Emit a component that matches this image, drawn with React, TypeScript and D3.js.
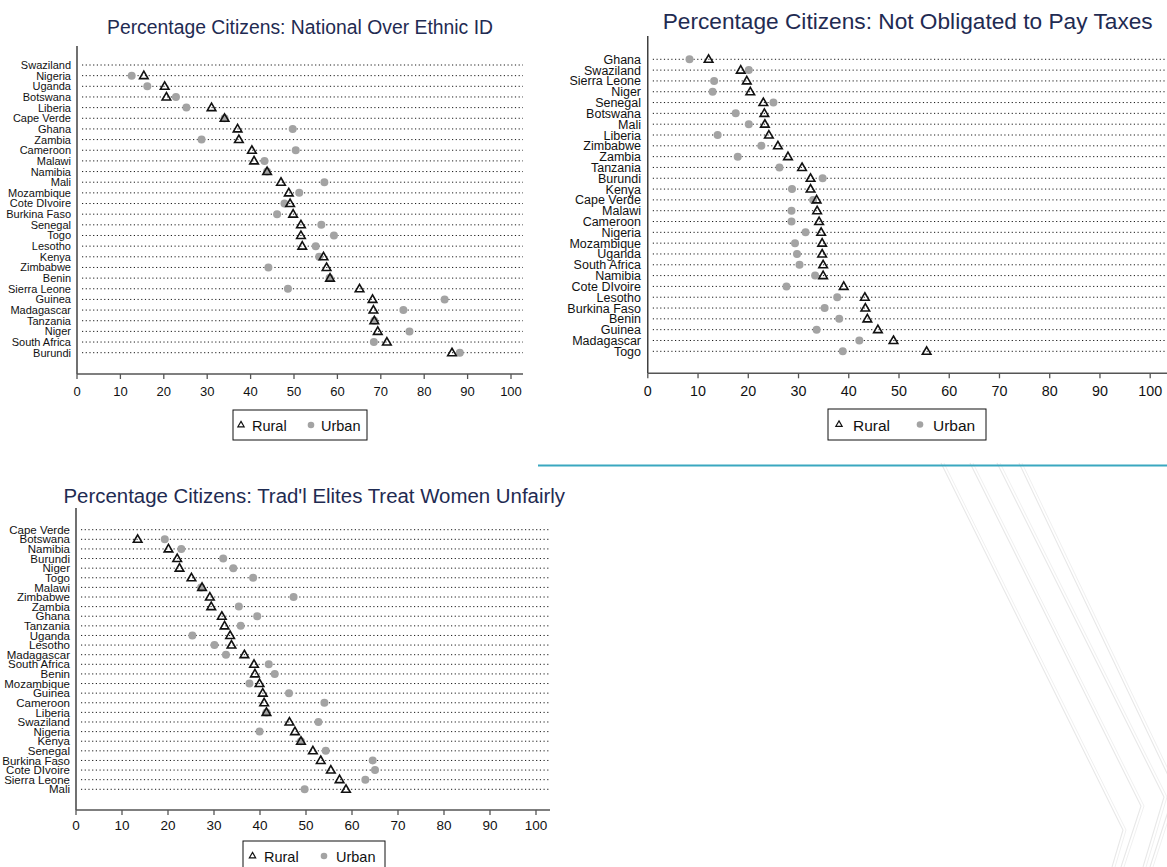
import React from "react";
import * as d3 from "d3";

// ---------- Data ----------
const seriesNames = ["Rural", "Urban"];
const xTicks = [0, 10, 20, 30, 40, 50, 60, 70, 80, 90, 100];

const ethnicTitle = "Percentage Citizens: National Over Ethnic ID";
const ethnicCountries = [
  "Swaziland", "Nigeria", "Uganda", "Botswana", "Liberia", "Cape Verde", "Ghana", "Zambia",
  "Cameroon", "Malawi", "Namibia", "Mali", "Mozambique", "Cote DIvoire", "Burkina Faso",
  "Senegal", "Togo", "Lesotho", "Kenya", "Zimbabwe", "Benin", "Sierra Leone", "Guinea",
  "Madagascar", "Tanzania", "Niger", "South Africa", "Burundi",
];
const ethnicRural: (number | null)[] = [
  null, 15.4, 20.2, 20.6, 31.0, 34.0, 37.0, 37.3, 40.3, 40.8, 43.8, 47.0, 48.8, 49.1, 49.8,
  51.6, 51.6, 51.9, 56.8, 57.5, 58.3, 65.1, 68.1, 68.3, 68.5, 69.3, 71.4, 86.4,
];
const ethnicUrban: (number | null)[] = [
  null, 12.6, 16.2, 22.8, 25.2, 34.0, 49.7, 28.7, 50.4, 43.2, 43.8, 57.0, 51.2, 47.8, 46.1,
  56.3, 59.2, 55.0, 55.8, 44.1, 58.2, 48.6, 84.7, 75.2, 68.5, 76.6, 68.4, 88.2,
];

const taxTitle = "Percentage Citizens: Not Obligated to Pay Taxes";
const taxCountries = [
  "Ghana", "Swaziland", "Sierra Leone", "Niger", "Senegal", "Botswana", "Mali", "Liberia",
  "Zimbabwe", "Zambia", "Tanzania", "Burundi", "Kenya", "Cape Verde", "Malawi", "Cameroon",
  "Nigeria", "Mozambique", "Uganda", "South Africa", "Namibia", "Cote DIvoire", "Lesotho",
  "Burkina Faso", "Benin", "Guinea", "Madagascar", "Togo",
];
const taxRural: (number | null)[] = [
  12.1, 18.5, 19.7, 20.4, 23.0, 23.2, 23.3, 24.1, 25.9, 27.9, 30.7, 32.4, 32.4, 33.6, 33.7,
  34.1, 34.5, 34.7, 34.7, 34.9, 34.9, 39.0, 43.2, 43.3, 43.7, 45.8, 48.9, 55.5,
];
const taxUrban: (number | null)[] = [
  8.3, 20.1, 13.2, 12.9, 25.0, 17.5, 20.1, 13.9, 22.6, 17.9, 26.2, 34.8, 28.7, 32.9, 28.6,
  28.6, 31.4, 29.3, 29.7, 30.2, 33.3, 27.6, 37.7, 35.2, 38.1, 33.6, 42.1, 38.8,
];

const womenTitle = "Percentage Citizens: Trad'l Elites Treat Women Unfairly";
const womenCountries = [
  "Cape Verde", "Botswana", "Namibia", "Burundi", "Niger", "Togo", "Malawi", "Zimbabwe",
  "Zambia", "Ghana", "Tanzania", "Uganda", "Lesotho", "Madagascar", "South Africa", "Benin",
  "Mozambique", "Guinea", "Cameroon", "Liberia", "Swaziland", "Nigeria", "Kenya", "Senegal",
  "Burkina Faso", "Cote DIvoire", "Sierra Leone", "Mali",
];
const womenRural: (number | null)[] = [
  null, 13.4, 20.1, 22.0, 22.5, 25.1, 27.4, 29.1, 29.4, 31.7, 32.3, 33.5, 33.8, 36.6, 38.7,
  38.9, 39.9, 40.6, 40.9, 41.4, 46.4, 47.6, 48.9, 51.5, 53.2, 55.4, 57.3, 58.7,
];
const womenUrban: (number | null)[] = [
  null, 19.3, 22.9, 32.0, 34.2, 38.5, 27.2, 47.3, 35.4, 39.4, 35.8, 25.3, 30.1, 32.6, 41.9,
  43.2, 37.7, 46.3, 54.0, 41.4, 52.7, 39.9, 48.9, 54.3, 64.5, 65.0, 62.9, 49.7,
];

// ---------- Styles ----------
const FONT = "'Liberation Sans', Arial, Helvetica, sans-serif";
const TITLE_COLOR = "#1f2b52";
const URBAN_COLOR = "#a3a3a3";

type Layout = {
  x0: number; x100: number; axisEnd: number; axisTop: number; axisY: number;
  yFirst: number; yLast: number; labelX: number; labelFont: number; tickFont: number;
  tickLabelY: number;
  title: { x1: number; x2: number; baseline: number; size: number };
  legend: { x: number; y: number; w: number; h: number; triX: number; ruralX: number; circX: number; urbanX: number; textY: number; font: number };
};

type PanelProps = {
  title: string;
  categories: string[];
  rural: (number | null)[];
  urban: (number | null)[];
  L: Layout;
};

function Panel({ title, categories, rural, urban, L }: PanelProps) {
  const x = d3.scaleLinear().domain([0, 100]).range([L.x0, L.x100]);
  const y = d3.scalePoint<string>().domain(categories).range([L.yFirst, L.yLast]);
  const tri = d3.symbol().type(d3.symbolTriangle).size(32)();
  const triLegend = d3.symbol().type(d3.symbolTriangle).size(17)();
  return (
    <g fontFamily={FONT}>
      <text
        x={L.title.x1}
        y={L.title.baseline}
        fontSize={L.title.size}
        fill={TITLE_COLOR}
        textLength={L.title.x2 - L.title.x1}
        lengthAdjust="spacingAndGlyphs"
      >
        {title}
      </text>
      {/* y axis */}
      <line x1={L.x0} x2={L.x0} y1={L.axisTop} y2={L.axisY} stroke="#111" strokeWidth={1.2} />
      {/* x axis */}
      <line x1={L.x0} x2={L.axisEnd} y1={L.axisY} y2={L.axisY} stroke="#555" strokeWidth={1.5} />
      {xTicks.map((t) => (
        <g key={t}>
          <line x1={x(t)} x2={x(t)} y1={L.axisY} y2={L.axisY + 5} stroke="#555" strokeWidth={1.3} />
          <text x={x(t)} y={L.tickLabelY} dy="0.35em" textAnchor="middle" fontSize={L.tickFont} fill="#111">
            {t}
          </text>
        </g>
      ))}
      {categories.map((c) => (
        <g key={c}>
          <line
            x1={L.x0 + 5}
            x2={L.axisEnd}
            y1={y(c)}
            y2={y(c)}
            stroke="#1a1a1a"
            strokeWidth={1}
            strokeDasharray="1.2 2.5"
          />
          <text x={L.labelX} y={y(c)} dy="0.36em" textAnchor="end" fontSize={L.labelFont} fill="#111">
            {c}
          </text>
        </g>
      ))}
      {categories.map((c, i) =>
        urban[i] == null ? null : (
          <circle key={"u" + c} cx={x(urban[i] as number)} cy={y(c)} r={4} fill={URBAN_COLOR} />
        )
      )}
      {categories.map((c, i) =>
        rural[i] == null ? null : (
          <path
            key={"r" + c}
            d={tri as string}
            transform={`translate(${x(rural[i] as number)},${(y(c) as number) + 0.5})`}
            fill="none"
            stroke="#111"
            strokeWidth={1.6}
          />
        )
      )}
      {/* legend */}
      <rect x={L.legend.x} y={L.legend.y} width={L.legend.w} height={L.legend.h} fill="#fff" stroke="#111" strokeWidth={1} />
      <path
        d={triLegend as string}
        transform={`translate(${L.legend.triX},${L.legend.textY - 1})`}
        fill="none"
        stroke="#111"
        strokeWidth={1.2}
      />
      <text x={L.legend.ruralX} y={L.legend.textY} dy="0.36em" fontSize={L.legend.font} fill="#111">
        {seriesNames[0]}
      </text>
      <circle cx={L.legend.circX} cy={L.legend.textY - 1} r={3.3} fill={URBAN_COLOR} />
      <text x={L.legend.urbanX} y={L.legend.textY} dy="0.36em" fontSize={L.legend.font} fill="#111">
        {seriesNames[1]}
      </text>
    </g>
  );
}

const layout1: Layout = {
  x0: 77, x100: 511, axisEnd: 523, axisTop: 46, axisY: 374, yFirst: 65, yLast: 352.7,
  labelX: 71, labelFont: 11, tickFont: 13, tickLabelY: 391,
  title: { x1: 107, x2: 493, baseline: 34, size: 20 },
  legend: { x: 233, y: 410, w: 134, h: 30, triX: 241, ruralX: 252, circX: 311, urbanX: 321, textY: 426, font: 14.5 },
};
const layout2: Layout = {
  x0: 647.8, x100: 1150.2, axisEnd: 1167, axisTop: 36, axisY: 373.3, yFirst: 59.3, yLast: 351.3,
  labelX: 641, labelFont: 12.5, tickFont: 14.3, tickLabelY: 390.7,
  title: { x1: 662.7, x2: 1152.7, baseline: 29, size: 21.5 },
  legend: { x: 828, y: 409, w: 158, h: 31, triX: 839, ruralX: 853, circX: 920, urbanX: 933, textY: 425.5, font: 15.5 },
};
const layout3: Layout = {
  x0: 76, x100: 536, axisEnd: 550, axisTop: 508, axisY: 810, yFirst: 529.7, yLast: 789.3,
  labelX: 70, labelFont: 11.5, tickFont: 13.5, tickLabelY: 825.5,
  title: { x1: 63.5, x2: 565, baseline: 503, size: 19.5 },
  legend: { x: 243, y: 841, w: 142, h: 32, triX: 252.5, ruralX: 264, circX: 324, urbanX: 336, textY: 857, font: 14.5 },
};

// decorative background chevrons (bottom right)
const chevrons: [number, number][][] = [
  [[941, 463], [1123, 830], [1112, 867]],
  [[970, 463], [1141, 806], [1121, 867]],
  [[997, 463], [1164, 797], [1143, 867]],
  [[1019, 463], [1175, 790], [1150, 867]],
];

export default function App() {
  const line = d3.line();
  return (
    <svg
      width={1167}
      height={867}
      style={{ position: "absolute", left: 0, top: 0, background: "#fff" }}
    >
      <rect x={0} y={0} width={1167} height={867} fill="#fff" />
      {chevrons.map((pts, i) => (
        <g key={i}>
          <path d={line(pts) as string} fill="none" stroke="#e8e8e8" strokeWidth={1.1} />
          <path
            d={line(pts.map(([a, b]) => [a + 3, b]) as [number, number][]) as string}
            fill="none"
            stroke="#f0f0f0"
            strokeWidth={1}
          />
        </g>
      ))}
      <line x1={538} x2={1167} y1={465.5} y2={465.5} stroke="#3aa8c0" strokeWidth={2.2} />
      <Panel title={ethnicTitle} categories={ethnicCountries} rural={ethnicRural} urban={ethnicUrban} L={layout1} />
      <Panel title={taxTitle} categories={taxCountries} rural={taxRural} urban={taxUrban} L={layout2} />
      <Panel title={womenTitle} categories={womenCountries} rural={womenRural} urban={womenUrban} L={layout3} />
    </svg>
  );
}
